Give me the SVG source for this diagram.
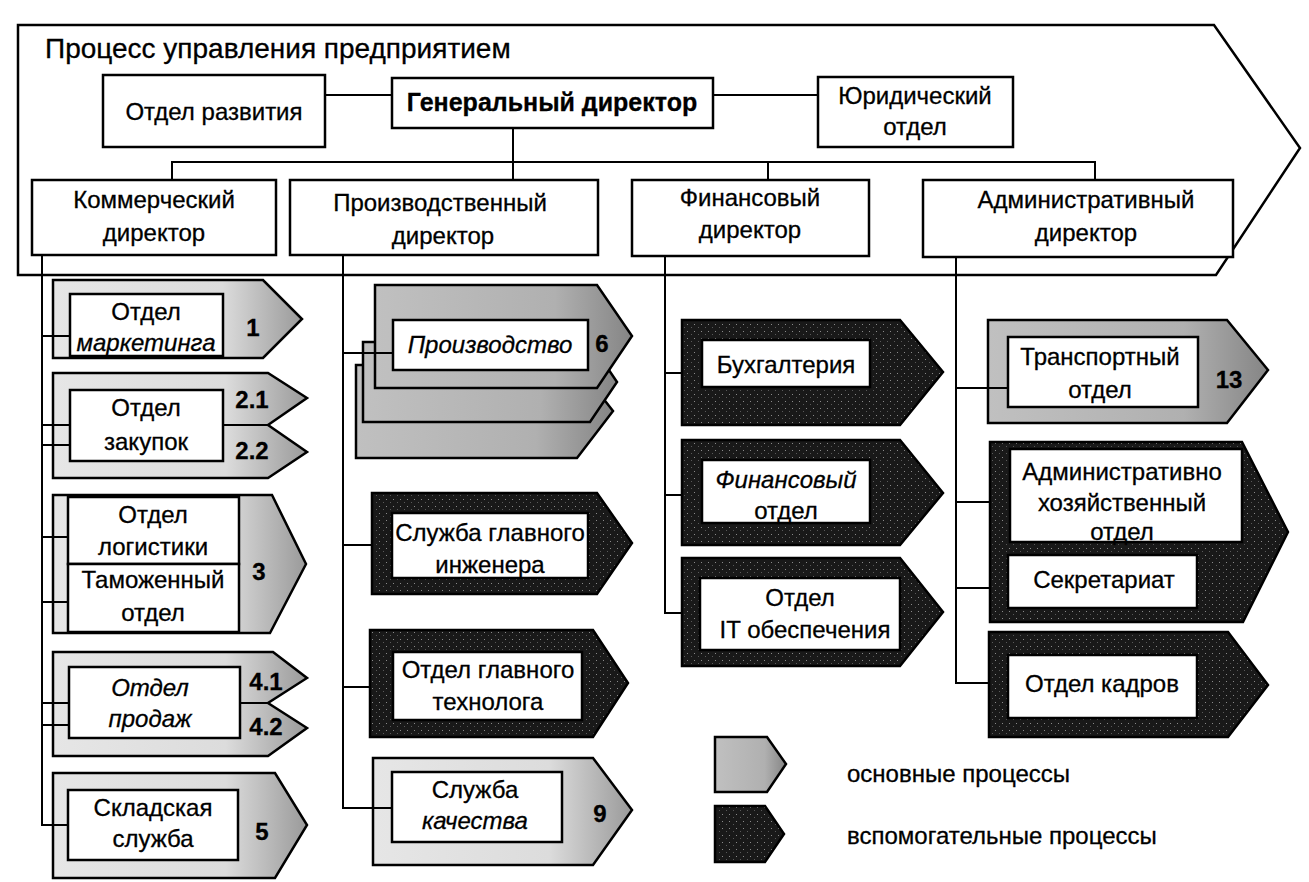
<svg xmlns="http://www.w3.org/2000/svg" width="1309" height="882" viewBox="0 0 1309 882">
<defs>
<linearGradient id="gl" x1="0" y1="0" x2="1" y2="0"><stop offset="0" stop-color="#e6e6e6"/><stop offset="0.68" stop-color="#dcdcdc"/><stop offset="1" stop-color="#9a9a9a"/></linearGradient>
<linearGradient id="gm" x1="0" y1="0" x2="1" y2="0"><stop offset="0" stop-color="#c0c0c0"/><stop offset="0.7" stop-color="#b0b0b0"/><stop offset="1" stop-color="#858585"/></linearGradient>
<pattern id="pd" width="7" height="7" patternUnits="userSpaceOnUse"><rect width="7" height="7" fill="#191919"/><rect x="1" y="2" width="1" height="1" fill="#8a8a8a"/><rect x="5" y="5" width="1" height="1" fill="#5a5a5a"/></pattern>
</defs>
<style>
.frame{fill:#fff;stroke:#000;stroke-width:2.5}
.box{fill:#fff;stroke:#000;stroke-width:2.5}
.lt{fill:url(#gl);stroke:#000;stroke-width:2.5}
.md{fill:url(#gm);stroke:#000;stroke-width:2.5}
.dk{fill:url(#pd);stroke:#000;stroke-width:2.5}
.ln{fill:none;stroke:#000;stroke-width:2}
text{font-family:"Liberation Sans",Arial,sans-serif;font-size:24px;fill:#000;stroke:#000;stroke-width:0.3;text-anchor:middle}
.ttl{font-size:28px;text-anchor:start}
.b{font-weight:bold}
.gd{font-size:25px}
.i{font-style:italic}
.lg{text-anchor:start}
</style>
<rect width="1309" height="882" fill="#fff"/>

<g id="frame">
<polygon class="frame" points="18,25 1214,25 1300,148 1216,275 18,275"/>
<text class="ttl" x="45" y="58">Процесс управления предприятием</text>
</g>

<g id="otdel-razvitiya"><rect class="box" x="103" y="75" width="222" height="72"/><text x="214" y="120">Отдел развития</text></g>
<g id="gen-director"><rect class="box" x="392" y="78" width="321" height="50"/><text class="b gd" x="552" y="111">Генеральный директор</text></g>
<g id="yur-otdel"><rect class="box" x="818" y="77" width="195" height="70"/><text x="915" y="104">Юридический</text><text x="915" y="135">отдел</text></g>

<g id="kom-director"><rect class="box" x="32" y="180" width="244" height="75"/><text x="154" y="208">Коммерческий</text><text x="154" y="241">директор</text></g>
<g id="proizv-director"><rect class="box" x="290" y="180" width="308" height="75"/><text x="440" y="211">Производственный</text><text x="443" y="244">директор</text></g>
<g id="fin-director"><rect class="box" x="632" y="180" width="237" height="76"/><text x="750" y="206">Финансовый</text><text x="750" y="238">директор</text></g>
<g id="adm-director"><rect class="box" x="923" y="180" width="310" height="77"/><text x="1086" y="208">Административный</text><text x="1086" y="241">директор</text></g>

<g id="n1-marketing">
<polygon class="lt" points="53,280 263,280 302,319 263,358 53,358"/>
<rect class="box" x="70" y="294" width="153" height="62"/>
<text x="146" y="320">Отдел</text><text class="i" x="146" y="351">маркетинга</text>
<text class="b" x="253" y="336">1</text>
</g>

<g id="n2-zakupki">
<polygon class="lt" points="53,373 268,373 307,398 268,425 307,452 268,478 53,478"/>
<line class="ln" x1="223" y1="425" x2="268" y2="425"/>
<rect class="box" x="70" y="390" width="153" height="71"/>
<text x="146" y="416">Отдел</text><text x="146" y="450">закупок</text>
<text class="b" x="252" y="408">2.1</text><text class="b" x="252" y="459">2.2</text>
</g>

<g id="n3-logistika">
<polygon class="lt" points="53,495 272,495 306,564 270,633 53,633"/>
<rect class="box" x="68" y="497" width="171" height="67"/>
<rect class="box" x="68" y="564" width="171" height="68"/>
<text x="153" y="523">Отдел</text><text x="153" y="555">логистики</text>
<text x="153" y="588">Таможенный</text><text x="153" y="621">отдел</text>
<text class="b" x="259" y="580">3</text>
</g>

<g id="n4-prodazhi">
<polygon class="lt" points="53,652 273,652 307,678 268,703 307,728 268,756 53,756"/>
<line class="ln" x1="240" y1="703" x2="268" y2="703"/>
<rect class="box" x="69" y="667" width="171" height="71"/>
<text class="i" x="150" y="696">Отдел</text><text class="i" x="150" y="727">продаж</text>
<text class="b" x="266" y="690">4.1</text><text class="b" x="266" y="735">4.2</text>
</g>

<g id="n5-sklad">
<polygon class="lt" points="53,773 275,773 307,825 275,878 53,878"/>
<rect class="box" x="68" y="790" width="170" height="70"/>
<text x="153" y="816">Складская</text><text x="153" y="847">служба</text>
<text class="b" x="262" y="840">5</text>
</g>

<g id="n6-proizvodstvo">
<polygon class="md" points="356,365 577,365 613,411 577,458 356,458"/>
<polygon class="md" points="363,342 590,342 617,382 590,422 363,422"/>
<polygon class="md" points="375,285 597,285 632,336 597,388 375,388"/>
<rect class="box" x="393" y="320" width="195" height="50"/>
<text class="i" x="490" y="353">Производство</text>
<text class="b" x="602" y="352">6</text>
</g>

<g id="n7-glav-inzhener">
<polygon class="dk" points="372,493 597,493 632,543 597,594 372,594"/>
<rect class="box" x="392" y="513" width="196" height="65"/>
<text x="490" y="541">Служба главного</text><text x="490" y="573">инженера</text>
</g>

<g id="n8-glav-tehnolog">
<polygon class="dk" points="370,630 593,630 628,683 593,737 370,737"/>
<rect class="box" x="393" y="652" width="189" height="68"/>
<text x="488" y="678">Отдел главного</text><text x="488" y="710">технолога</text>
</g>

<g id="n9-kachestvo">
<polygon class="lt" points="373,758 593,758 632,810 593,865 373,865"/>
<rect class="box" x="392" y="772" width="170" height="70"/>
<text x="475" y="798">Служба</text><text class="i" x="475" y="829">качества</text>
<text class="b" x="600" y="822">9</text>
</g>

<g id="n10-buhgalteriya">
<polygon class="dk" points="682,320 900,320 943,372 900,425 682,425"/>
<rect class="box" x="702" y="340" width="168" height="47"/>
<text x="786" y="373">Бухгалтерия</text>
</g>

<g id="n11-fin-otdel">
<polygon class="dk" points="682,440 900,440 943,493 900,545 682,545"/>
<rect class="box" x="702" y="460" width="168" height="63"/>
<text class="i" x="786" y="488">Финансовый</text><text x="786" y="519">отдел</text>
</g>

<g id="n12-it">
<polygon class="dk" points="682,558 900,558 943,612 900,666 682,666"/>
<rect class="box" x="700" y="578" width="200" height="72"/>
<text x="800" y="606">Отдел</text><text x="805" y="638">IT обеспечения</text>
</g>

<g id="n13-transport">
<polygon class="md" points="988,320 1227,320 1268,370 1227,423 988,423"/>
<rect class="box" x="1008" y="337" width="190" height="70"/>
<text x="1100" y="365">Транспортный</text><text x="1100" y="398">отдел</text>
<text class="b" x="1229" y="388">13</text>
</g>

<g id="n14-aho">
<polygon class="dk" points="990,442 1242,442 1288,532 1243,622 990,622"/>
<rect class="box" x="1010" y="449" width="232" height="93"/>
<text x="1122" y="480">Административно</text><text x="1122" y="511">хозяйственный</text><text x="1122" y="540">отдел</text>
<rect class="box" x="1008" y="555" width="189" height="53"/>
<text x="1104" y="588">Секретариат</text>
</g>

<g id="n15-kadry">
<polygon class="dk" points="989,632 1228,632 1268,685 1228,737 989,737"/>
<rect class="box" x="1008" y="655" width="189" height="63"/>
<text x="1102" y="692">Отдел кадров</text>
</g>

<g id="connectors">
<path class="ln" d="M325,95 H392 M713,95 H818 M513,128 V180 M172,180 V162 H1095 V180 M768,162 V180"/>
<path class="ln" d="M42,255 V825 H68 M42,336 H70 M42,425 H70 M42,445 H70 M42,537 H68 M42,602 H68 M42,703 H69 M42,725 H69"/>
<path class="ln" d="M343,255 V808 H392 M343,353 H393 M343,545 H372 M343,687 H370"/>
<path class="ln" d="M665,256 V613 H682 M665,373 H682 M665,495 H682"/>
<path class="ln" d="M956,257 V683 H989 M956,388 H1008 M956,502 H990 M956,588 H990"/>
</g>

<g id="legend">
<polygon class="md" points="715,737 767,737 786,764 767,792 715,792"/>
<text class="lg" x="847" y="782">основные процессы</text>
<polygon class="dk" points="715,806 765,806 784,834 765,862 715,862"/>
<text class="lg" x="847" y="844">вспомогательные процессы</text>
</g>
</svg>
